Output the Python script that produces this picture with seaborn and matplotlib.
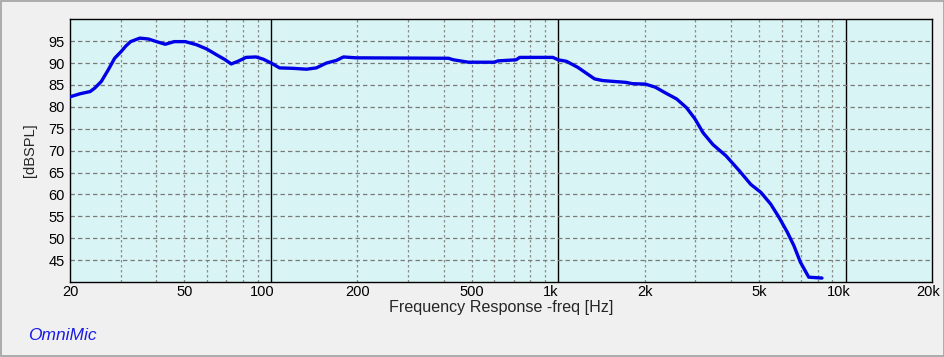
import numpy as np
import pandas as pd
import matplotlib
matplotlib.use("Agg")
import matplotlib.pyplot as plt
import matplotlib.transforms as mtransforms
import seaborn as sns

# frequency response
freq = [20, 21.7, 23.5, 24.4, 25.7, 27.2, 28.6, 30.1, 31.3, 32.5, 35.0, 37.5, 40.0, 42.9, 46.1,
        50.4, 55.1, 59.9, 64.7, 69.2, 72.8, 76.8, 82.0, 88.8, 94.0, 100.3, 107.2, 119.5,
        133, 144, 156, 169, 179, 198, 415, 432, 487, 601, 617, 714, 735, 958, 1000,
        1069, 1172, 1252, 1338, 1429, 1719, 1812, 2011, 2178, 2360, 2585, 2797, 2990,
        3193, 3455, 3840, 4271, 4680, 5070, 5490, 5865, 6270, 6612, 6970, 7450, 8280]
spl = [82.3, 83.0, 83.5, 84.3, 85.8, 88.5, 91.1, 92.6, 93.9, 94.9, 95.7, 95.5, 94.9, 94.3, 94.9,
       94.9, 94.2, 93.2, 91.9, 90.8, 89.8, 90.4, 91.3, 91.4, 90.9, 90.0, 88.9, 88.8,
       88.6, 88.9, 90.0, 90.6, 91.4, 91.2, 91.1, 90.75, 90.2, 90.2, 90.5, 90.75, 91.3, 91.3, 90.75,
       90.4, 89.0, 87.7, 86.4, 86.0, 85.6, 85.3, 85.2, 84.5, 83.2, 81.8, 79.8, 77.3,
       74.1, 71.4, 68.8, 65.4, 62.3, 60.5, 57.8, 54.8, 51.4, 48.3, 44.5, 41.1, 40.9]

xticks = [20, 50, 100, 200, 500, 1000, 2000, 5000, 10000, 20000]
xtick_labels = ["20", "50", "100", "200", "500", "1k", "2k", "5k", "10k", "20k"]
yticks = [45, 50, 55, 60, 65, 70, 75, 80, 85, 90, 95]

sns.set_style("white")
plt.rcParams['font.family'] = ['Liberation Sans', 'DejaVu Sans']

df = pd.DataFrame({"freq": freq, "spl": spl})

fig = plt.figure(figsize=(9.45, 3.57), dpi=100, facecolor="#F0F0F0")
ax = fig.add_axes([70/945, 1-282/357, 862/945, (282-19.3)/357])
ax.set_facecolor("#D8F4F4")

# grid
minor = [30, 40, 50, 60, 70, 80, 90, 200, 300, 400, 500, 600, 700, 800, 900,
         2000, 3000, 4000, 5000, 6000, 7000, 8000, 9000]
for m in minor:
    ax.axvline(m, color="#8C8C8C", lw=0.9, ls=(0, (2, 2)), zorder=1)
for d in [100, 1000, 10000]:
    ax.axvline(d, color="black", lw=1.0, zorder=1)
for y in yticks:
    ax.axhline(y, color="#7A7A7A", lw=0.9, ls=(0, (3.5, 2.5)), zorder=1)

sns.lineplot(data=df, x="freq", y="spl", ax=ax, color="#0000E6", lw=2.4, zorder=3)

ax.set_xscale("log")
ax.set_xlim(20, 20000)
ax.set_ylim(40, 100)
ax.set_xticks(xticks)
ax.set_xticklabels(xtick_labels)
ax.minorticks_off()
ax.set_yticks(yticks)
ax.tick_params(length=0, labelsize=10.5, colors="black")
ax.tick_params(axis="x", pad=2)
ax.tick_params(axis="y", pad=4)
ax.set_xlabel("Frequency Response -freq [Hz]", fontsize=11.6, labelpad=1)
ax.set_ylabel("[dBSPL]", fontsize=10.5, labelpad=8)
for s in ax.spines.values():
    s.set_color("black")
    s.set_linewidth(1.0)

# the decade labels sit a little left of their lines in the original
shift = {"100": -9, "1k": -8, "10k": -7, "20k": -4}
for lab in ax.get_xticklabels():
    dx = shift.get(lab.get_text(), 0)
    if dx:
        lab.set_transform(lab.get_transform() +
                          mtransforms.ScaledTranslation(dx/100, 0, fig.dpi_scale_trans))

fig.text(28/945, 1-336/357, "OmniMic", color="#1A1AE6", fontsize=12.5,
         style="italic", va="center", ha="left")

# window border
fig.patches.append(plt.Rectangle((0.001, 0.003), 0.998, 0.994, transform=fig.transFigure,
                                 fill=False, edgecolor="#A0A0A0", lw=1.2))

fig.savefig("out.png", dpi=100, facecolor=fig.get_facecolor())
